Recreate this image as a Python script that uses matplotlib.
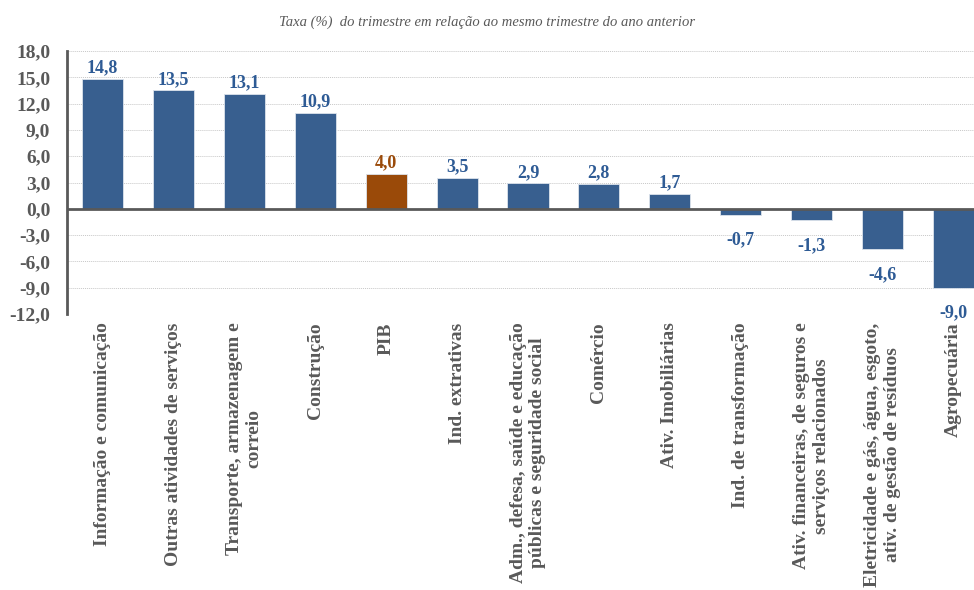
import numpy as np
import matplotlib.pyplot as plt

categorias = [
    "Informação e comunicação",
    "Outras atividades de serviços",
    "Transporte, armazenagem e\ncorreio",
    "Construção",
    "PIB",
    "Ind. extrativas",
    "Adm., defesa, saúde e educação\npúblicas e seguridade social",
    "Comércio",
    "Ativ. Imobiliárias",
    "Ind. de transformação",
    "Ativ. financeiras, de seguros e\nserviços relacionados",
    "Eletricidade e gás, água, esgoto,\nativ. de gestão de resíduos",
    "Agropecuária",
]
taxas = [14.8, 13.5, 13.1, 10.9, 4.0, 3.5, 2.9, 2.8, 1.7, -0.7, -1.3, -4.6, -9.0]
yticks = [18, 15, 12, 9, 6, 3, 0, -3, -6, -9, -12]

azul = "#385F8F"
marrom = "#9A4A09"
cinza = "#595959"


def fmt(v):
    return f"{v:.1f}".replace(".", ",")


plt.rcParams["font.family"] = ["Liberation Serif", "DejaVu Serif"]

fig = plt.figure(figsize=(9.74, 5.9), dpi=100)
ax = fig.add_axes([67 / 974, 1 - 314 / 590, 922 / 974, 263 / 590])

x = np.arange(len(categorias))
cores = [marrom if c == "PIB" else azul for c in categorias]
ax.bar(x, taxas, width=0.58, color=cores, edgecolor="#DCE3EC", linewidth=0.6, zorder=3)

for xi, v, c in zip(x, taxas, cores):
    lab_cor = marrom if c == marrom else "#2E5B95"
    if v >= 0:
        ax.text(xi, v + 0.3, fmt(v), ha="center", va="bottom", fontsize=13,
                fontweight="bold", color=lab_cor)
    else:
        ax.text(xi, v - 1.9, fmt(v), ha="center", va="top", fontsize=13,
                fontweight="bold", color=lab_cor)

ax.set_xlim(-0.5, len(categorias) - 0.5)
ax.set_ylim(-12, 18)
ax.set_yticks(yticks)
ax.set_yticklabels([fmt(t) for t in yticks], fontsize=14, fontweight="bold", color=cinza)
ax.grid(axis="y", color="#C8C8C8", linestyle=(0, (1, 1)), linewidth=0.7, zorder=0)
ax.axhline(0, color="#595959", linewidth=2, zorder=4)

ax.set_xticks(x)
ax.set_xticklabels(categorias, rotation=90, ha="center", va="top", multialignment="center",
                   fontsize=14, fontweight="bold", color=cinza)
ax.tick_params(axis="x", length=0, pad=6)
ax.tick_params(axis="y", length=0, pad=12)

for s in ["top", "right", "bottom"]:
    ax.spines[s].set_visible(False)
ax.spines["left"].set_color("#595959")
ax.spines["left"].set_linewidth(2)

fig.text(0.5, 1 - 22 / 590, "Taxa (%)  do trimestre em relação ao mesmo trimestre do ano anterior",
         ha="center", va="center", fontsize=10.5, style="italic", color="#595959")

fig.savefig("out.png", dpi=100)
